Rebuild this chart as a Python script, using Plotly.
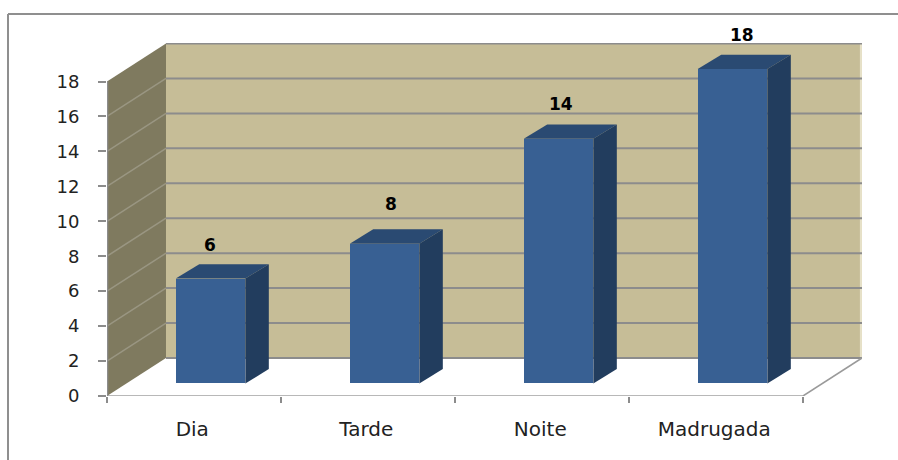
import plotly.graph_objects as go

# Occurrences per period of the day
categories = ["Dia", "Tarde", "Noite", "Madrugada"]
values = [6, 8, 14, 18]
y_ticks = [0, 2, 4, 6, 8, 10, 12, 14, 16, 18]

# Oblique projection: how far the back wall sits from the front plane, in axis units
DEPTH_X = 0.339
DEPTH_Y = 2.175
Y_TOP = 18
N = len(categories)

# Bar placement in the depth of the box
BAR_WIDTH = 0.40
BAR_SHIFT = 0.595
BAR_BASE = 0.72
BAR_DX = 0.135
BAR_DY = 0.82

GRID = "#8c8c8c"
FRONT = "#386093"
TOP = "#2a4a72"
SIDE = "#223d5e"

fig = go.Figure()

shapes = []


def poly(points, fill):
    path = "M " + " L ".join(f"{x},{y}" for x, y in points) + " Z"
    return dict(type="path", path=path, xref="x", yref="y", fillcolor=fill,
                line=dict(width=0), layer="below")


def seg(x0, y0, x1, y1, color=GRID, width=2):
    return dict(type="line", x0=x0, y0=y0, x1=x1, y1=y1, xref="x", yref="y",
                line=dict(color=color, width=width), layer="below")


# Back wall with its pale right edge, then the left side wall
shapes.append(poly([(DEPTH_X, DEPTH_Y), (N + DEPTH_X, DEPTH_Y),
                    (N + DEPTH_X, DEPTH_Y + Y_TOP), (DEPTH_X, DEPTH_Y + Y_TOP)], "#c6bd97"))
shapes.append(poly([(N + DEPTH_X - 0.012, DEPTH_Y), (N + DEPTH_X, DEPTH_Y),
                    (N + DEPTH_X, DEPTH_Y + Y_TOP), (N + DEPTH_X - 0.012, DEPTH_Y + Y_TOP)], "#e6e1c8"))
shapes.append(poly([(0, 0), (DEPTH_X, DEPTH_Y), (DEPTH_X, DEPTH_Y + Y_TOP), (0, Y_TOP)], "#7f7a5f"))

# Gridlines run across the back wall and fold down the side wall
for t in y_ticks:
    shapes.append(seg(DEPTH_X, DEPTH_Y + t, N + DEPTH_X, DEPTH_Y + t))
    if 0 < t < Y_TOP:
        shapes.append(seg(0, t, DEPTH_X, DEPTH_Y + t, "#9a9682", 1.5))

# Floor outline and the vertical value axis
shapes.append(seg(0, -0.07, N, -0.07, "#dcdcdc", 2))
shapes.append(seg(0, 0, N, 0, "#a0a0a0", 1.5))
shapes.append(seg(N, 0, N + DEPTH_X, DEPTH_Y, "#9a9a9a", 1.5))
shapes.append(seg(0, 0, 0, Y_TOP, "#8c8c8c", 2.5))

# Chart frame: only the top and left edges are visible
FRAME_TOP = (460 - 14 - 64) / 353
FRAME_LEFT = -99 / 755
shapes.append(dict(type="line", xref="paper", yref="paper", x0=FRAME_LEFT, x1=791 / 755,
                   y0=FRAME_TOP, y1=FRAME_TOP, line=dict(color="#8f8f8f", width=2)))
shapes.append(dict(type="line", xref="paper", yref="paper", x0=FRAME_LEFT, x1=FRAME_LEFT,
                   y0=-64 / 353, y1=FRAME_TOP, line=dict(color="#8f8f8f", width=2)))

# Front faces
fig.add_trace(go.Bar(
    x=[i + BAR_SHIFT for i in range(N)], y=values, base=[BAR_BASE] * N,
    width=BAR_WIDTH, marker=dict(color=FRONT, line=dict(width=0)),
    hoverinfo="skip", showlegend=False,
))

# Top and side faces of each column
for i, v in enumerate(values):
    left = i + BAR_SHIFT - BAR_WIDTH / 2
    right = i + BAR_SHIFT + BAR_WIDTH / 2
    top = BAR_BASE + v
    fig.add_trace(go.Scatter(
        x=[left, right, right + BAR_DX, left + BAR_DX, left],
        y=[top, top, top + BAR_DY, top + BAR_DY, top],
        fill="toself", fillcolor=TOP, mode="lines", line=dict(width=0),
        hoverinfo="skip", showlegend=False,
    ))
    fig.add_trace(go.Scatter(
        x=[right, right + BAR_DX, right + BAR_DX, right, right],
        y=[BAR_BASE, BAR_BASE + BAR_DY, top + BAR_DY, top, BAR_BASE],
        fill="toself", fillcolor=SIDE, mode="lines", line=dict(width=0),
        hoverinfo="skip", showlegend=False,
    ))

# Value labels sit above each column
label_shift = [-1, 6, 2, 9]
label_lift = [19, 25, 21, 20]
annotations = [
    dict(x=i + BAR_SHIFT, y=BAR_BASE + v + BAR_DY, xref="x", yref="y",
         text=str(v), showarrow=False, xshift=label_shift[i], yshift=label_lift[i],
         font=dict(family="DejaVu Sans", size=17, color="#000000", weight="bold"))
    for i, v in enumerate(values)
]

fig.update_layout(
    width=898, height=460, autosize=False,
    margin=dict(l=107, r=36, t=43, b=64),
    paper_bgcolor="#ffffff", plot_bgcolor="rgba(0,0,0,0)",
    shapes=shapes, annotations=annotations,
    bargap=0, showlegend=False,
    font=dict(family="DejaVu Sans", size=18, color="#222222"),
    xaxis=dict(
        range=[0, 755 / 174], showgrid=False, zeroline=False, showline=False,
        tickmode="array", tickvals=[i + 0.49 for i in range(N)], ticktext=categories,
        ticks="", ticklabelstandoff=19, tickfont=dict(size=20),
        minor=dict(tickmode="array", tickvals=list(range(N + 1)), ticks="outside",
                   ticklen=6, tickwidth=2, tickcolor="#8c8c8c", showgrid=False),
    ),
    yaxis=dict(
        range=[0, 353 / 17.47], showgrid=False, zeroline=False, showline=False,
        tickmode="array", tickvals=y_ticks, ticks="outside", ticklen=8, tickwidth=2,
        tickcolor="#8c8c8c", tickfont=dict(size=18), ticklabelstandoff=15,
    ),
)

fig.write_html("out.html")
